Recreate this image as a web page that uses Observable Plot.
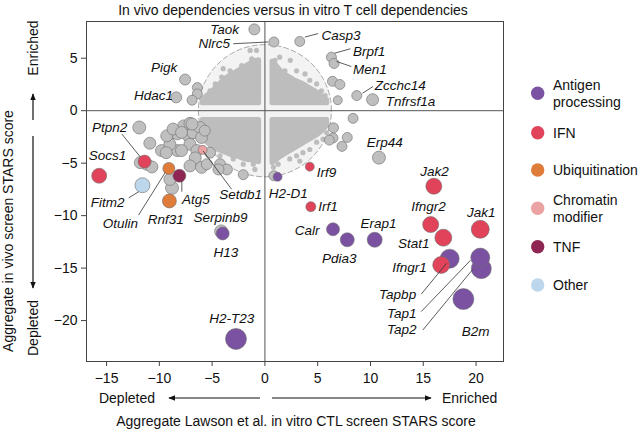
<!DOCTYPE html>
<html><head><meta charset="utf-8">
<script src="https://cdn.jsdelivr.net/npm/d3@7"></script>
<script src="https://cdn.jsdelivr.net/npm/@observablehq/plot@0.6"></script>
<style>
body{margin:0;background:#fff;}
svg{font-family:"Liberation Sans",Arial,Helvetica,sans-serif;}
</style>
</head><body><div id="chart"></div>
<script>
// ---------- DATA ----------
const groups = ["Antigen processing","IFN","Ubiquitination","Chromatin modifier","TNF","Other","None"];
const groupColors = ["#7b52a2","#e0435a","#e07c39","#eba2a3","#8e2553","#bcd6ec","#bfbfbf"];
const legendLines = [["Antigen","processing"],["IFN"],["Ubiquitination"],["Chromatin","modifier"],["TNF"],["Other"]];

// highlighted genes (x = in vitro STARS, y = in vivo STARS, size = point weight)
const geneNames = ["Taok","Nlrc5","Casp3","Pigk","Hdac1","Brpf1","Men1","Zcchc14","Tnfrsf1a","Erp44","Serpinb9",
  "H2-D1","Calr","Pdia3","Erap1","Tapbp","Tap1","Tap2","B2m","H13","H2-T23",
  "Ptpn2","Socs1","Irf9","Irf1","Jak2","Ifngr2","Stat1","Ifngr1","Jak1",
  "Otulin","Rnf31","Setdb1","Atg5","Fitm2"];
const geneX = [-1.0,0.85,3.3,-7.56,-8.4,6.3,6.55,8.7,10.2,10.8,-4.15,
  1.2,6.45,7.8,10.4,17.5,20.4,20.5,18.8,-4.0,-2.74,
  -11.4,-15.7,4.25,4.35,16.0,15.7,16.9,16.7,20.4,
  -9.1,-9.05,-5.9,-8.1,-11.6];
const geneY = [7.75,6.55,6.6,2.97,1.27,5.1,4.5,1.44,1.05,-4.47,-11.5,
  -6.3,-11.3,-12.3,-12.3,-14.1,-14.0,-15.05,-17.95,-11.7,-21.75,
  -4.85,-6.2,-5.33,-9.15,-7.2,-10.85,-12.1,-14.7,-11.3,
  -5.5,-8.6,-3.73,-6.2,-7.1];
const geneSize = [5.5,5,5,5.5,5.5,5,5,5,6,6.5,6.5,
  4.5,6.5,7,7.5,9.5,9.5,10,10.5,6.5,10.5,
  6.5,7.5,4.5,5,8,8,8.5,8.5,9,
  6,7,4.5,6.5,7.5];
const geneGroup = ["None","None","None","None","None","None","None","None","None","None","None",
  "Antigen processing","Antigen processing","Antigen processing","Antigen processing","Antigen processing","Antigen processing","Antigen processing","Antigen processing","Antigen processing","Antigen processing",
  "IFN","IFN","IFN","IFN","IFN","IFN","IFN","IFN","IFN",
  "Ubiquitination","Ubiquitination","Chromatin modifier","TNF","Other"];

// other scored genes outside the cloud (grey)
const otherX = [-6.4,-6.4,-6.9,6.4,7.1,6.9,8.35,6.5,6.45,7.8,7.3,6.1,0.85,-2.05,
  -11.9,-10.9,-9.8,-8.7,-8.3,-7.7,-7.1,-7.25,-6.8,-6.15,-6.0,-5.7,-7.1,-6.45,-8.3,-9.0,-9.3,-8.7,-7.9,-6.9,
  -7.9,-6.6,-9.35,-5.2,-7.1,-6.0,-11.2,-10.7,-11.8,-9.0,-8.8,-4.25,-3.6,-4.4,-5.5];
const otherY = [2.2,1.6,1.0,2.8,2.5,1.0,-0.73,-1.63,-2.6,-2.55,-3.4,-2.8,-6.2,-6.1,
  -1.6,-3.1,-3.8,-2.1,-2.2,-1.45,-1.2,-2.4,-2.1,-1.6,-2.55,-1.9,-3.2,-3.8,-3.8,-3.2,-2.4,-1.75,-2.07,-1.27,
  -3.8,-4.5,-4.0,-4.0,-5.26,-5.4,-5.1,-5.36,-4.95,-6.55,-7.35,-5.1,-5.6,-5.6,-5.1];
const otherSize = [5,5,5,5,5,4.5,5,5,5,5,5,5,5,5,
  6.5,6,6,6,6,6,6,6,6,6,6,5.5,6,6,6,6,6,6,6,6,
  6,6,6,5.5,6,6,6,6,6,6,6.5,5.5,5.5,5.5,5.5];

// dense cloud of non-significant genes (outline of the four quadrant masses)
const cloudRadius = 6.3;
const cloudLeftX = [-5.9,-5.5,-5,-4.5,-4,-3.5,-3,-2.5,-2,-1.5,-1,-0.55];
const cloudULTop = [0.95,1.4,1.8,2.3,2.8,3.2,3.5,3.8,4.1,4.4,4.7,4.8];
const cloudLLBottom = [-2.2,-3.0,-3.4,-3.7,-3.9,-4.1,-4.3,-4.4,-4.6,-4.7,-4.8,-4.9];
const cloudRightX = [0.72,1,1.5,2,2.5,3,3.5,4,4.5,5,5.5,5.9];
const cloudURTop = [4.7,4.4,3.8,3.4,3.1,2.8,2.6,2.3,2.0,1.7,1.3,1.0];
const cloudLRBottom = [-5.0,-4.8,-4.4,-4.1,-3.8,-3.5,-3.2,-2.9,-2.6,-2.3,-1.9,-1.4];
const cloudInnerTop = 0.72, cloudInnerBottom = -0.88;
const scatterX = [-1.4,-0.8,-1.25,-2.2,-3.95,-3.3,-4.1,-5.2,-4.7,-5.7,0.95,1.4,2.4,1.9,3.0,3.8,4.25,4.9,5.35,5.7,2.4,
  -5.35,-4.9,-3.6,-4.25,-3.0,-2.05,-1.1,-0.95,-2.5,0.8,1.25,2.35,3.0,3.6,4.25,4.9,5.5,5.85,3.3];
const scatterY = [5.74,5.74,4.95,4.3,4.0,3.8,3.2,1.9,2.55,1.1,4.8,5.1,4.8,3.8,3.8,3.5,2.9,2.55,1.9,1.44,2.7,
  -2.7,-3.7,-3.35,-4.3,-4.6,-5.1,-5.1,-5.6,-4.0,-5.4,-5.1,-4.6,-4.3,-4.0,-3.7,-3.0,-2.7,-2.1,-4.8];

// gene labels
const labelText = ["Taok","Nlrc5","Pigk","Hdac1",
  "Casp3","Brpf1","Men1","Zcchc14","Tnfrsf1a","Irf9","Irf1","Atg5",
  "Ptpn2","Erp44","Socs1","Jak2","Fitm2","Setdb1","H2-D1","Ifngr2","Jak1","Otulin","Rnf31","Serpinb9","Erap1","Calr","Stat1","H13","Pdia3","Ifngr1","Tapbp","Tap1","Tap2","B2m","H2-T23"];
const labelX = [-2.46,-3.3,-8.3,-8.7,
  5.35,8.35,8.35,10.4,11.45,4.9,5.05,-7.85,
  -14.7,11.35,-14.9,16.07,-14.9,-2.3,2.2,15.5,20.5,-13.7,-9.4,-4.2,10.75,4.0,14.1,-3.7,7.05,13.7,12.57,12.97,12.97,19.95,-3.15];
const labelY = [7.75,6.35,4.14,1.44,
  7.18,5.67,3.92,2.39,0.86,-5.9,-9.1,-8.5,
  -1.6,-3.03,-4.3,-5.8,-8.8,-7.97,-7.9,-9.1,-9.73,-10.8,-10.4,-10.2,-10.8,-11.4,-12.7,-13.55,-14.1,-15.0,-17.5,-19.3,-20.9,-21.05,-19.8];
const labelAlign = ["end","end","end","end",
  "start","start","start","start","start","start","start","start",
  "middle","middle","middle","middle","middle","middle","middle","middle","middle","middle","middle","middle","middle","middle","middle","middle","middle","middle","middle","middle","middle","middle","middle"];

// leader lines
const leaderX1 = [-3.0,3.78,6.6,6.78,9.23,-13.55,-12.9,-11.97,-7.87,-5.86,14.81,14.81,14.96];
const leaderY1 = [6.38,7.01,5.48,4.69,1.66,-2.23,-8.3,-9.95,-6.7,-3.83,-17.48,-19.14,-20.9];
const leaderX2 = [0.31,5.04,8.1,8.19,10.24,-11.81,-11.95,-9.45,-7.87,-3.15,17.2,19.47,19.66];
const leaderY2 = [6.55,7.35,5.9,4.21,2.3,-4.4,-7.72,-5.9,-7.72,-7.49,-14.55,-14.26,-15.15];

const xTicks = [-15,-10,-5,0,5,10,15,20];
const yTicks = [-20,-15,-10,-5,0,5];

// ---------- TABLES ----------
const genes = geneNames.map((g,i)=>({gene:g,x:geneX[i],y:geneY[i],s:geneSize[i],group:geneGroup[i]}));
const others = otherX.map((x,i)=>({x,y:otherY[i],s:otherSize[i]}));
const scatter = scatterX.map((x,i)=>({x,y:scatterY[i]}));
const quadL = cloudLeftX.map((x,i)=>({x,t:cloudULTop[i],b:cloudLLBottom[i]}));
const quadR = cloudRightX.map((x,i)=>({x,t:cloudURTop[i],b:cloudLRBottom[i]}));
const circle = d3.range(0,361,4).map(a=>({x:cloudRadius*Math.cos(a*Math.PI/180),y:cloudRadius*Math.sin(a*Math.PI/180)}));
const labels = labelText.map((t,i)=>({t,x:labelX[i],y:labelY[i],a:labelAlign[i]}));
const leaders = leaderX1.map((x,i)=>({x1:x,y1:leaderY1[i],x2:leaderX2[i],y2:leaderY2[i]}));
const grayGenes = genes.filter(d=>d.group==="None");
const colorOrder = ["Other","TNF","Chromatin modifier","Ubiquitination","IFN","Antigen processing"];
const colored = genes.filter(d=>d.group!=="None").sort((a,b)=>colorOrder.indexOf(a.group)-colorOrder.indexOf(b.group));

const cloudGray = "#bdbdbd";
const textFont = 13.5;

const plot = Plot.plot({
  width: 641, height: 431,
  marginTop: 21, marginRight: 138, marginBottom: 70, marginLeft: 86,
  x: {domain: [-16.9, 22.6]},
  y: {domain: [-23.9, 8.5]},
  r: {type: "linear", domain: [0, 10], range: [0, 10]},
  color: {domain: groups, range: groupColors},
  style: {fontSize: "14px", fontFamily: "'Liberation Sans', Arial, Helvetica, sans-serif", color: "#111"},
  marks: [
    Plot.line(circle, {x:"x", y:"y", fill:"#f3f3f3", stroke:"#a9a9a9", strokeDasharray:"5,3", strokeWidth:1}),
    Plot.areaY(quadL, {x:"x", y1:cloudInnerTop, y2:"t", fill:cloudGray, stroke:cloudGray, strokeWidth:5, strokeLinejoin:"round", curve:"monotone-x"}),
    Plot.areaY(quadL, {x:"x", y1:cloudInnerBottom, y2:"b", fill:cloudGray, stroke:cloudGray, strokeWidth:5, strokeLinejoin:"round", curve:"monotone-x"}),
    Plot.areaY(quadR, {x:"x", y1:cloudInnerTop, y2:"t", fill:cloudGray, stroke:cloudGray, strokeWidth:5, strokeLinejoin:"round", curve:"monotone-x"}),
    Plot.areaY(quadR, {x:"x", y1:cloudInnerBottom, y2:"b", fill:cloudGray, stroke:cloudGray, strokeWidth:5, strokeLinejoin:"round", curve:"monotone-x"}),
    Plot.dot(scatter, {x:"x", y:"y", r:2.6, fill:cloudGray}),
    Plot.ruleX([0], {stroke:"#555", strokeWidth:1}),
    Plot.ruleY([0], {stroke:"#555", strokeWidth:1}),
    Plot.frame({stroke:"#444", strokeWidth:1}),
    Plot.axisX({ticks: xTicks, tickSize:5, tickPadding:7, fontSize:14, label:null, stroke:"#444"}),
    Plot.axisY({ticks: yTicks, tickSize:5, tickPadding:4, fontSize:14, label:null, stroke:"#444"}),
    Plot.dot(others, {x:"x", y:"y", r:"s", fill:"#bfbfbf", stroke:"#7a7a7a", strokeWidth:0.7}),
    Plot.dot(grayGenes, {x:"x", y:"y", r:"s", fill:"#bfbfbf", stroke:"#7a7a7a", strokeWidth:0.7}),
    Plot.dot(colored, {x:"x", y:"y", r:"s", fill:"group", stroke:"#6e6e6e", strokeWidth:0.6}),
    Plot.link(leaders, {x1:"x1", y1:"y1", x2:"x2", y2:"y2", stroke:"#333", strokeWidth:0.8}),
    Plot.text(labels.filter(d=>d.a==="start"), {x:"x", y:"y", text:"t", textAnchor:"start", fontStyle:"italic", fontSize:textFont, fill:"#111"}),
    Plot.text(labels.filter(d=>d.a==="middle"), {x:"x", y:"y", text:"t", textAnchor:"middle", fontStyle:"italic", fontSize:textFont, fill:"#111"}),
    Plot.text(labels.filter(d=>d.a==="end"), {x:"x", y:"y", text:"t", textAnchor:"end", fontStyle:"italic", fontSize:textFont, fill:"#111"})
  ]
});
document.getElementById("chart").appendChild(plot);

// ---------- annotations: title, axis titles, arrows, legend ----------
const svg = d3.select(plot);
const defs = svg.append("defs");
defs.append("marker").attr("id","ah").attr("viewBox","0 0 10 10").attr("refX",9).attr("refY",5)
  .attr("markerWidth",6).attr("markerHeight",6).attr("orient","auto-start-reverse")
  .append("path").attr("d","M0,1 L10,5 L0,9 Z").attr("fill","#111");
const g = svg.append("g").attr("fill","#111").style("font-size","14px");
g.append("text").attr("x",293).attr("y",15).attr("text-anchor","middle").text("In vivo dependencies versus in vitro T cell dependencies");
g.append("text").attr("x",296).attr("y",426).attr("text-anchor","middle").text("Aggregate Lawson et al. in vitro CTL screen STARS score");
g.append("text").attr("x",155).attr("y",403).attr("text-anchor","end").text("Depleted");
g.append("text").attr("x",442).attr("y",403).attr("text-anchor","start").text("Enriched");
g.append("line").attr("x1",260).attr("y1",398).attr("x2",169).attr("y2",398).attr("stroke","#111").attr("stroke-width",1.2).attr("marker-end","url(#ah)");
g.append("line").attr("x1",272).attr("y1",398).attr("x2",431).attr("y2",398).attr("stroke","#111").attr("stroke-width",1.2).attr("marker-end","url(#ah)");
g.append("text").attr("transform","translate(13,231) rotate(-90)").attr("text-anchor","middle").text("Aggregate in vivo screen STARS score");
g.append("text").attr("transform","translate(38,48) rotate(-90)").attr("text-anchor","middle").text("Enriched");
g.append("text").attr("transform","translate(38,328) rotate(-90)").attr("text-anchor","middle").text("Depleted");
g.append("line").attr("x1",33).attr("y1",120).attr("x2",33).attr("y2",94).attr("stroke","#111").attr("stroke-width",1.2).attr("marker-end","url(#ah)");
g.append("line").attr("x1",33).attr("y1",136).attr("x2",33).attr("y2",288).attr("stroke","#111").attr("stroke-width",1.2).attr("marker-end","url(#ah)");

const legendY = [93.3,132.7,170,208.3,246.7,285];
legendLines.forEach((lines,i)=>{
  const cy = legendY[i];
  g.append("circle").attr("cx",537.7).attr("cy",cy).attr("r",6.7).attr("fill",groupColors[i]);
  const t = g.append("text").attr("x",553).attr("y",cy - (lines.length-1)*8.8 + 5).attr("text-anchor","start");
  lines.forEach((ln,j)=>t.append("tspan").attr("x",553).attr("dy",j===0?0:17.6).text(ln));
});
</script></body></html>
